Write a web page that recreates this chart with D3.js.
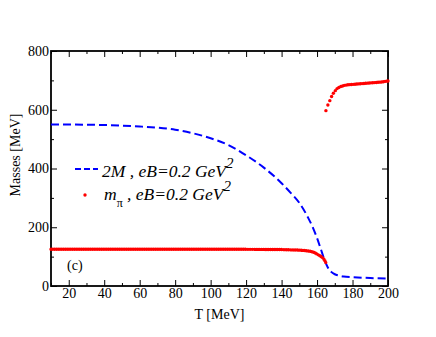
<!doctype html>
<html lang="en">
<head>
	<meta charset="UTF-8">
	<title>Masses vs T</title>
	<script src="https://d3js.org/d3.v7.min.js"></script>
	<style>
		body {
			margin: 0;
			padding: 0;
			background: #fff;
		}
		svg text {
			font-family: "Liberation Serif", "Times New Roman", Times, serif;
		}
	</style>
</head>
<body>
	<div id="canvas"></div>

	<script>
		// 2M curve (blue dashed)
		const twoMT = [10, 20, 30, 40, 50, 60, 70, 80, 90, 100, 110, 120, 130, 140, 145, 150, 155, 158, 160, 162, 164, 166, 168, 170, 172, 175, 180, 190, 200];
		const twoM  = [550, 550, 549, 548, 546, 543, 539, 532, 520, 503, 480, 445, 403, 350, 318, 283, 232, 194, 163, 128, 92, 64, 48, 40, 36, 32, 30, 27, 25];

		// m_pi, lower branch (dense red dots)
		const piLowT = [10, 30, 50, 70, 90, 110, 130, 140, 145, 150, 154, 157, 159, 161, 162.5, 163.5, 164.3, 165];
		const piLow  = [125, 125, 125, 125, 125, 125, 124.5, 124, 123, 122, 120, 117, 112, 105, 99, 94, 87, 79];

		// m_pi, upper branch (red dots)
		const piHighT = [165, 166.1, 167.2, 168.2, 169.2, 170.3, 171.3, 172.3, 173.4, 174.4, 175.4,
			176.4, 177.4, 178.4, 179.4, 180.4, 181.4, 182.4, 183.4, 184.4, 185.4, 186.4, 187.4, 188.4, 189.4,
			190.4, 191.4, 192.4, 193.4, 194.4, 195.4, 196.4, 197.4, 198.4, 199.4, 200];
		const piHigh  = [597, 616, 631, 645, 656, 665, 672, 676, 679, 681, 683,
			684, 685, 685.5, 686, 686.5, 687, 687.5, 688, 688.5, 689, 689.5, 690, 690.5, 691,
			691.5, 692, 692.5, 693, 693.5, 694, 694.5, 695.5, 696.5, 697.5, 698];

		const xMajor = [20, 40, 60, 80, 100, 120, 140, 160, 180, 200];
		const xMinor = [10, 30, 50, 70, 90, 110, 130, 150, 170, 190];
		const yMajor = [0, 200, 400, 600, 800];
		const yMinor = [100, 300, 500, 700];

		const width = 436;
		const height = 337;
		const serif = '"Liberation Serif", "Times New Roman", Times, serif';

		const x = d3.scaleLinear().domain([10, 200]).range([51, 388]);
		const y = d3.scaleLinear().domain([0, 800]).range([286, 51]);

		const svg = d3.select('#canvas')
			.append('svg')
			.attr('width', width)
			.attr('height', height)
			.attr('font-family', serif);

		// Axes, ticks pointing inward
		svg.append('g').attr('transform', 'translate(0,' + y(0) + ')')
			.call(d3.axisBottom(x).tickValues(xMajor).tickSize(-6).tickPadding(2));
		svg.append('g').attr('transform', 'translate(0,' + y(0) + ')')
			.call(d3.axisBottom(x).tickValues(xMinor).tickSize(-3).tickFormat(''));
		svg.append('g').attr('transform', 'translate(0,' + y(800) + ')')
			.call(d3.axisTop(x).tickValues(xMajor).tickSize(-6).tickFormat(''));
		svg.append('g').attr('transform', 'translate(0,' + y(800) + ')')
			.call(d3.axisTop(x).tickValues(xMinor).tickSize(-3).tickFormat(''));

		svg.append('g').attr('transform', 'translate(' + x(10) + ',0)')
			.call(d3.axisLeft(y).tickValues(yMajor).tickSize(-6).tickPadding(2));
		svg.append('g').attr('transform', 'translate(' + x(10) + ',0)')
			.call(d3.axisLeft(y).tickValues(yMinor).tickSize(-3).tickFormat(''));
		svg.append('g').attr('transform', 'translate(' + x(200) + ',0)')
			.call(d3.axisRight(y).tickValues(yMajor).tickSize(-6).tickFormat(''));
		svg.append('g').attr('transform', 'translate(' + x(200) + ',0)')
			.call(d3.axisRight(y).tickValues(yMinor).tickSize(-3).tickFormat(''));

		svg.selectAll('g').attr('font-family', serif);
		svg.selectAll('.domain').remove();
		svg.selectAll('.tick line').attr('stroke', '#000').attr('stroke-width', 1);
		svg.selectAll('.tick text')
			.attr('font-size', 14)
			.attr('fill', '#000');

		// Frame
		svg.append('rect')
			.attr('x', x(10))
			.attr('y', y(800))
			.attr('width', x(200) - x(10))
			.attr('height', y(0) - y(800))
			.attr('fill', 'none')
			.attr('stroke', '#000')
			.attr('stroke-width', 1.8);

		// 2M dashed curve
		const line = d3.line()
			.x((d) => x(d[0]))
			.y((d) => y(d[1]))
			.curve(d3.curveMonotoneX);

		svg.append('path')
			.datum(twoMT.map((t, i) => [t, twoM[i]]))
			.attr('d', line)
			.attr('fill', 'none')
			.attr('stroke', '#0000ff')
			.attr('stroke-width', 2)
			.attr('stroke-dasharray', '8,4');

		// m_pi lower branch as dense dots
		svg.append('path')
			.datum(piLowT.map((t, i) => [t, piLow[i]]))
			.attr('d', line)
			.attr('fill', 'none')
			.attr('stroke', '#ff0000')
			.attr('stroke-width', 3.4)
			.attr('stroke-linecap', 'round')
			.attr('stroke-dasharray', '0,1.8');

		// m_pi upper branch
		svg.selectAll('.pi-high')
			.data(piHighT.map((t, i) => [t, piHigh[i]]))
			.enter().append('circle')
			.attr('class', 'pi-high')
			.attr('cx', (d) => x(d[0]))
			.attr('cy', (d) => y(d[1]))
			.attr('r', 1.7)
			.attr('fill', '#ff0000');

		// Axis titles
		svg.append('text')
			.attr('x', (x(10) + x(200)) / 2)
			.attr('y', 319)
			.attr('text-anchor', 'middle')
			.attr('font-size', 14)
			.text('T [MeV]');

		svg.append('text')
			.attr('transform', 'translate(20,155) rotate(-90)')
			.attr('text-anchor', 'middle')
			.attr('font-size', 14)
			.text('Masses [MeV]');

		// Panel label
		svg.append('text')
			.attr('x', 67)
			.attr('y', 270)
			.attr('font-size', 14)
			.text('(c)');

		// Legend
		svg.append('line')
			.attr('x1', 75).attr('x2', 98)
			.attr('y1', 169).attr('y2', 169)
			.attr('stroke', '#0000ff')
			.attr('stroke-width', 2)
			.attr('stroke-dasharray', '6,3');

		const leg1 = svg.append('text')
			.attr('x', 102)
			.attr('y', 177)
			.attr('font-size', 17.5)
			.attr('font-style', 'italic');
		leg1.append('tspan').text('2M , eB=0.2 GeV');
		leg1.append('tspan').attr('dy', -9).attr('font-size', 15).text('2');

		svg.append('circle')
			.attr('cx', 85).attr('cy', 195)
			.attr('r', 1.7)
			.attr('fill', '#ff0000');

		const leg2 = svg.append('text')
			.attr('x', 104)
			.attr('y', 200)
			.attr('font-size', 17.5)
			.attr('font-style', 'italic');
		leg2.append('tspan').text('m');
		leg2.append('tspan').attr('dy', 7).attr('font-size', 12).attr('font-style', 'normal').text('\u03c0');
		leg2.append('tspan').attr('dy', -7).text(' , eB=0.2 GeV');
		leg2.append('tspan').attr('dy', -9).attr('font-size', 15).text('2');
	</script>
</body>
</html>
